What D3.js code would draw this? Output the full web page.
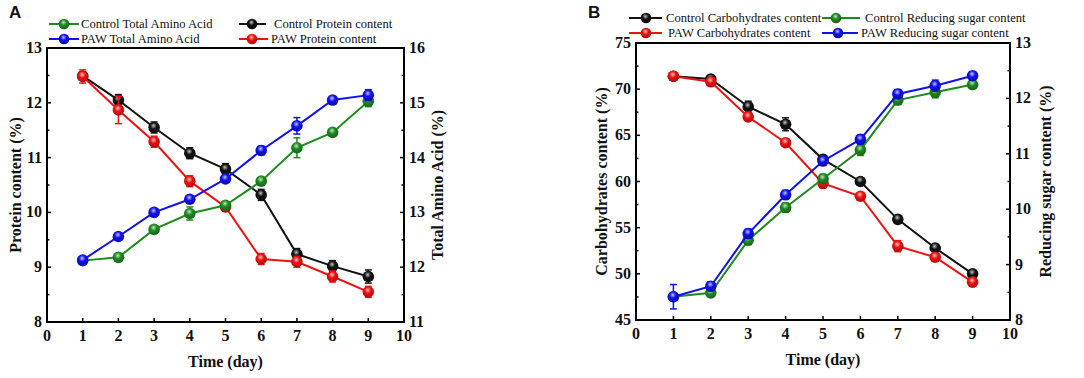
<!DOCTYPE html>
<html lang="en">
<head>
<meta charset="UTF-8">
<title>Protein, amino acid, carbohydrate and reducing sugar over time</title>
<script src="https://d3js.org/d3.v7.min.js"></script>
<style>
  body { margin: 0; background: #fff; }
  svg text { font-family: "Liberation Serif", "Times New Roman", serif; fill: #111; }
  .tick-label { font-size: 16px; font-weight: bold; }
  .axis-title { font-size: 16px; font-weight: bold; }
  .legend-text { font-size: 12.6px; }
  .panel-tag { font-family: "Liberation Sans", Arial, sans-serif !important; font-size: 17px; font-weight: bold; }
</style>
</head>
<body>
<svg width="1084" height="378"></svg>
<script>
// ---- data ----
const days = [1, 2, 3, 4, 5, 6, 7, 8, 9];

// Panel A
const controlProtein     = [12.49, 12.05, 11.55, 11.08, 10.79, 10.32, 9.24, 9.02, 8.83];
const controlProteinErr  = [0.05, 0.10, 0.10, 0.10, 0.10, 0.10, 0.10, 0.10, 0.12];
const pawProtein         = [12.48, 11.87, 11.29, 10.57, 10.10, 9.15, 9.10, 8.83, 8.55];
const pawProteinErr      = [0.12, 0.25, 0.10, 0.10, 0.08, 0.10, 0.10, 0.10, 0.10];
const controlAmino       = [12.12, 12.18, 12.69, 12.98, 13.13, 13.57, 14.18, 14.46, 15.03];
const controlAminoErr    = [0.03, 0.05, 0.05, 0.12, 0.05, 0.05, 0.18, 0.04, 0.10];
const pawAmino           = [12.13, 12.56, 13.00, 13.24, 13.61, 14.13, 14.58, 15.05, 15.14];
const pawAminoErr        = [0.03, 0.05, 0.05, 0.05, 0.05, 0.08, 0.15, 0.04, 0.10];

// Panel B
const controlCarb        = [71.4, 71.1, 68.1, 66.2, 62.4, 60.0, 55.9, 52.8, 50.0];
const controlCarbErr     = [0.2, 0.3, 0.6, 0.7, 0.4, 0.3, 0.2, 0.3, 0.3];
const pawCarb            = [71.4, 70.8, 67.0, 64.2, 59.8, 58.4, 53.0, 51.8, 49.1];
const pawCarbErr         = [0.3, 0.3, 0.3, 0.3, 0.5, 0.3, 0.6, 0.4, 0.3];
const controlSugar       = [8.42, 8.49, 9.44, 10.03, 10.55, 11.07, 11.97, 12.11, 12.25];
const controlSugarErr    = [0.05, 0.05, 0.08, 0.08, 0.08, 0.10, 0.08, 0.10, 0.06];
const pawSugar           = [8.42, 8.61, 9.56, 10.26, 10.87, 11.26, 12.08, 12.23, 12.41];
const pawSugarErr        = [0.22, 0.08, 0.08, 0.08, 0.08, 0.08, 0.08, 0.10, 0.06];

const xTicks = d3.range(0, 11);

const GREEN = "#1f8a1f", BLUE = "#1010ee", RED = "#ee1111", BLACK = "#111111";

let svg = d3.select("svg");

// sphere-like marker fills
let defs = svg.append("defs");
[["g", GREEN], ["b", BLUE], ["r", RED], ["k", BLACK]].forEach(([id, c]) => {
    let grad = defs.append("radialGradient").attr("id", "ball-" + id)
        .attr("cx", "45%").attr("cy", "35%").attr("r", "60%");
    grad.append("stop").attr("offset", "0%").attr("stop-color", d3.interpolateRgb(c, "#fff")(0.75));
    grad.append("stop").attr("offset", "45%").attr("stop-color", c);
    grad.append("stop").attr("offset", "100%").attr("stop-color", d3.color(c).darker(0.8));
});

function drawPanel(p) {
    let x = d3.scaleLinear().domain([0, 10]).range([p.left, p.right]);
    let yL = d3.scaleLinear().domain(p.leftDomain).range([p.bottom, p.top]);
    let yR = d3.scaleLinear().domain(p.rightDomain).range([p.bottom, p.top]);

    let g = svg.append("g");

    // box frame
    g.append("rect")
        .attr("x", p.left).attr("y", p.top)
        .attr("width", p.right - p.left).attr("height", p.bottom - p.top)
        .attr("fill", "none").attr("stroke", "#000").attr("stroke-width", 2);

    // bottom axis ticks (inward) + labels
    xTicks.forEach(t => {
        g.append("line").attr("x1", x(t)).attr("x2", x(t))
            .attr("y1", p.bottom).attr("y2", p.bottom - 4)
            .attr("stroke", "#000").attr("stroke-width", 1.5);
        g.append("text").attr("class", "tick-label")
            .attr("x", x(t)).attr("y", p.bottom + 19)
            .attr("text-anchor", "middle").text(t);
    });

    // left axis
    let lt = d3.range(p.leftDomain[0], p.leftDomain[1] + 1e-9, p.leftStep);
    lt.forEach((t, i) => {
        g.append("line").attr("x1", p.left).attr("x2", p.left + 4)
            .attr("y1", yL(t)).attr("y2", yL(t)).attr("stroke", "#000").attr("stroke-width", 1.5);
        if (i < lt.length - 1) {
            let m = t + p.leftStep / 2;
            g.append("line").attr("x1", p.left).attr("x2", p.left + 2.5)
                .attr("y1", yL(m)).attr("y2", yL(m)).attr("stroke", "#000").attr("stroke-width", 1.5);
        }
        g.append("text").attr("class", "tick-label")
            .attr("x", p.left - 5).attr("y", yL(t) + 5)
            .attr("text-anchor", "end").text(t);
    });

    // right axis
    let rt = d3.range(p.rightDomain[0], p.rightDomain[1] + 1e-9, 1);
    rt.forEach((t, i) => {
        g.append("line").attr("x1", p.right).attr("x2", p.right - 4)
            .attr("y1", yR(t)).attr("y2", yR(t)).attr("stroke", "#000").attr("stroke-width", 1.5);
        if (i < rt.length - 1) {
            g.append("line").attr("x1", p.right).attr("x2", p.right - 2.5)
                .attr("y1", yR(t + 0.5)).attr("y2", yR(t + 0.5)).attr("stroke", "#000").attr("stroke-width", 1.5);
        }
        g.append("text").attr("class", "tick-label")
            .attr("x", p.right + 5).attr("y", yR(t) + 5)
            .attr("text-anchor", "start").text(t);
    });

    // axis titles
    let midY = (p.top + p.bottom) / 2;
    g.append("text").attr("class", "axis-title")
        .attr("transform", `translate(${p.leftTitleX},${midY}) rotate(-90)`)
        .attr("text-anchor", "middle").text(p.leftTitle);
    g.append("text").attr("class", "axis-title")
        .attr("transform", `translate(${p.rightTitleX},${midY}) rotate(-90)`)
        .attr("text-anchor", "middle").text(p.rightTitle);
    g.append("text").attr("class", "axis-title")
        .attr("x", (p.left + p.right) / 2).attr("y", p.bottom + 45)
        .attr("text-anchor", "middle").text("Time (day)");

    // panel tag
    g.append("text").attr("class", "panel-tag")
        .attr("x", p.tagX).attr("y", 18).text(p.tag);

    // series
    p.series.forEach(s => {
        let y = s.axis === "right" ? yR : yL;
        let line = d3.line().x((d, i) => x(days[i])).y(d => y(d));
        let sg = g.append("g");
        sg.append("path").datum(s.values)
            .attr("d", line).attr("fill", "none")
            .attr("stroke", s.color).attr("stroke-width", 2);
        s.values.forEach((v, i) => {
            let cx = x(days[i]), e = s.err[i];
            sg.append("line").attr("x1", cx).attr("x2", cx)
                .attr("y1", y(v - e)).attr("y2", y(v + e))
                .attr("stroke", s.color).attr("stroke-width", 1.5);
            [v - e, v + e].forEach(w => {
                sg.append("line").attr("x1", cx - 3.5).attr("x2", cx + 3.5)
                    .attr("y1", y(w)).attr("y2", y(w))
                    .attr("stroke", s.color).attr("stroke-width", 1.5);
            });
        });
        sg.selectAll("circle").data(s.values).enter().append("circle")
            .attr("cx", (d, i) => x(days[i])).attr("cy", d => y(d))
            .attr("r", 5.8).attr("fill", `url(#ball-${s.ball})`);
    });

    // legend
    p.legend.forEach(l => {
        let lg = svg.append("g");
        lg.append("line").attr("x1", l.x1).attr("x2", l.x2)
            .attr("y1", l.y - 4).attr("y2", l.y - 4)
            .attr("stroke", l.color).attr("stroke-width", 2);
        lg.append("circle").attr("cx", l.mx).attr("cy", l.y - 4).attr("r", 5.3)
            .attr("fill", `url(#ball-${l.ball})`);
        lg.append("text").attr("class", "legend-text")
            .attr("x", l.tx).attr("y", l.y).text(l.label);
    });
}

drawPanel({
    tag: "A", tagX: 9,
    left: 47, right: 404, top: 48, bottom: 322,
    leftDomain: [8, 13], leftStep: 1, rightDomain: [11, 16],
    leftTitle: "Protein content (%)", rightTitle: "Total Amino Acid (%)",
    leftTitleX: 21, rightTitleX: 443,
    series: [
        { values: controlProtein, err: controlProteinErr, color: BLACK, ball: "k", axis: "left" },
        { values: pawProtein, err: pawProteinErr, color: RED, ball: "r", axis: "left" },
        { values: controlAmino, err: controlAminoErr, color: GREEN, ball: "g", axis: "right" },
        { values: pawAmino, err: pawAminoErr, color: BLUE, ball: "b", axis: "right" }
    ],
    legend: [
        { label: "Control Total Amino Acid", color: GREEN, ball: "g", x1: 49, x2: 79, mx: 64, tx: 81, y: 28 },
        { label: "PAW Total Amino Acid", color: BLUE, ball: "b", x1: 49, x2: 79, mx: 64, tx: 81, y: 43 },
        { label: "Control Protein content", color: BLACK, ball: "k", x1: 239, x2: 266, mx: 252, tx: 274, y: 28 },
        { label: "PAW Protein content", color: RED, ball: "r", x1: 239, x2: 268, mx: 252, tx: 271, y: 43 }
    ]
});

drawPanel({
    tag: "B", tagX: 588,
    left: 636, right: 1010, top: 43, bottom: 320,
    leftDomain: [45, 75], leftStep: 5, rightDomain: [8, 13],
    leftTitle: "Carbohydrates content (%)", rightTitle: "Reducing sugar content (%)",
    leftTitleX: 607, rightTitleX: 1051,
    series: [
        { values: controlCarb, err: controlCarbErr, color: BLACK, ball: "k", axis: "left" },
        { values: pawCarb, err: pawCarbErr, color: RED, ball: "r", axis: "left" },
        { values: controlSugar, err: controlSugarErr, color: GREEN, ball: "g", axis: "right" },
        { values: pawSugar, err: pawSugarErr, color: BLUE, ball: "b", axis: "right" }
    ],
    legend: [
        { label: "Control Carbohydrates content", color: BLACK, ball: "k", x1: 629, x2: 662, mx: 646, tx: 666, y: 22 },
        { label: "PAW Carbohydrates content", color: RED, ball: "r", x1: 629, x2: 662, mx: 646, tx: 668, y: 37 },
        { label: "Control Reducing sugar content", color: GREEN, ball: "g", x1: 822, x2: 860, mx: 836, tx: 865, y: 22 },
        { label: "PAW Reducing sugar content", color: BLUE, ball: "b", x1: 822, x2: 858, mx: 838, tx: 861, y: 37 }
    ]
});
</script>
</body>
</html>
